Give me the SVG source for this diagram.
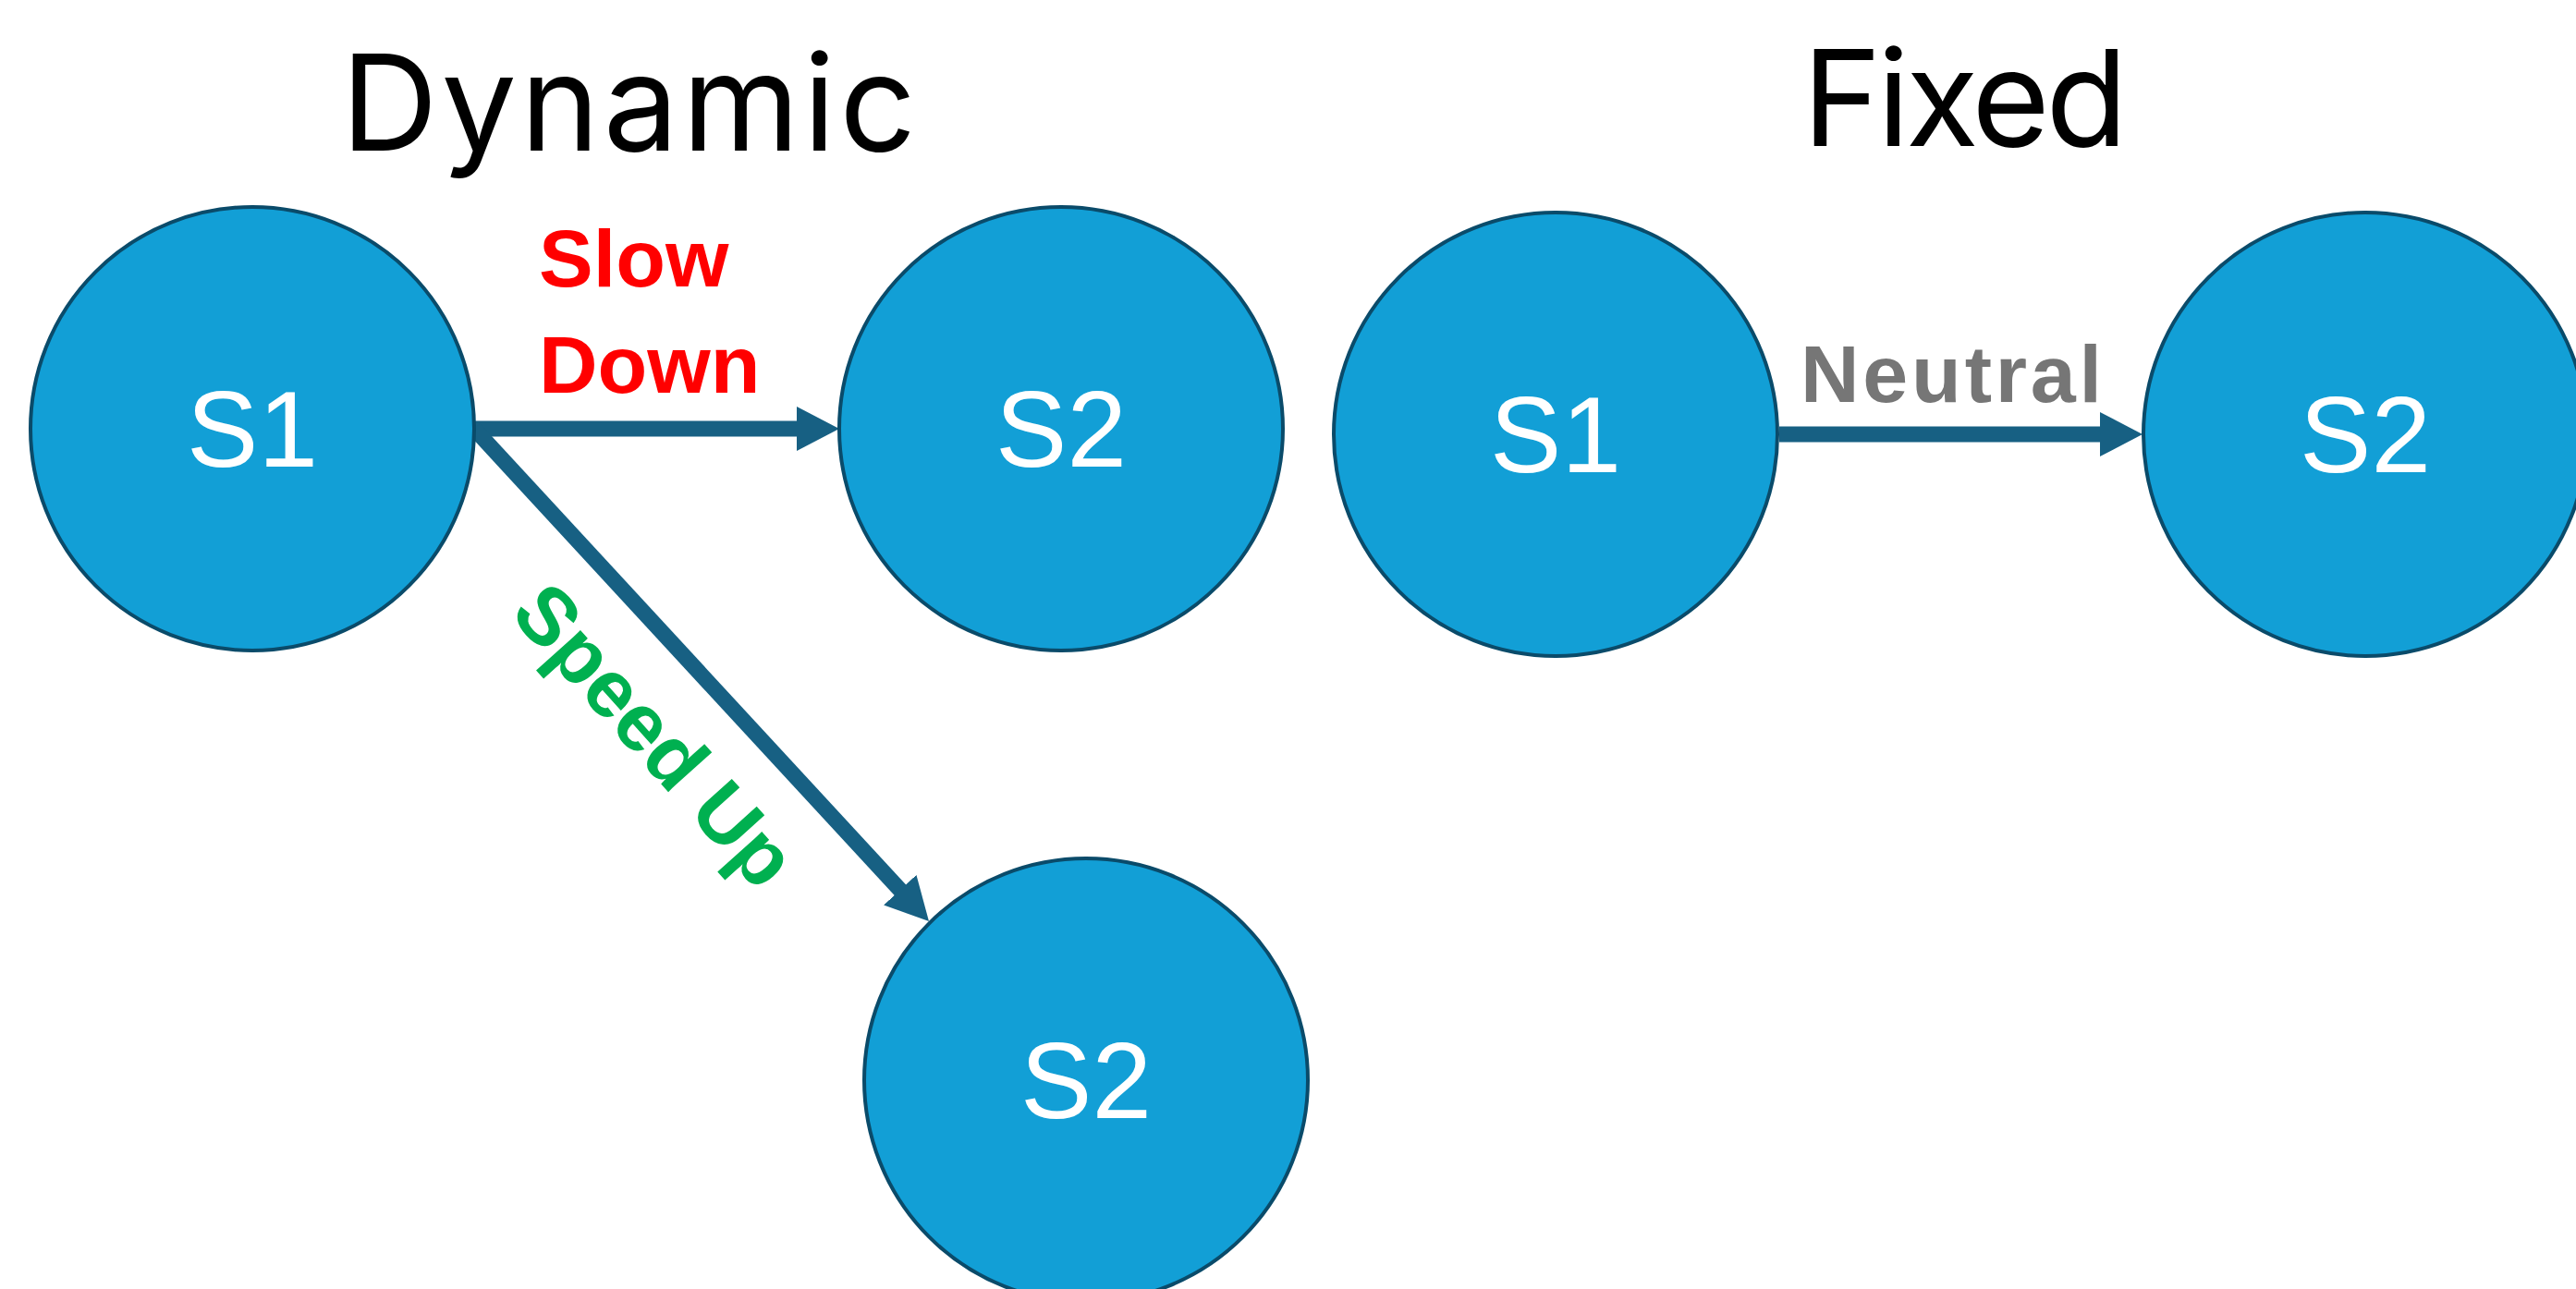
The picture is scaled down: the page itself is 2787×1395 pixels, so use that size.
<svg xmlns="http://www.w3.org/2000/svg" width="2787" height="1395" viewBox="0 0 2787 1395">
  <style>
    .node { fill: #129FD6; stroke: #0A4B6A; stroke-width: 4; }
    .nlabel { font-family: "Liberation Sans", Arial, sans-serif; font-size: 116px; fill: #FFFFFF; text-anchor: middle; }
    .title { font-family: Inter, "Liberation Sans", sans-serif; font-size: 145px; fill: #000000; text-anchor: middle; }
    .edge { stroke: #176083; stroke-width: 17; fill: none; }
    .elabel { font-family: "Liberation Sans", Arial, sans-serif; font-size: 88px; font-weight: bold; }
  </style>
  <defs>
    <marker id="arrow" markerUnits="userSpaceOnUse" markerWidth="46" markerHeight="48" viewBox="0 0 46 48" refX="4" refY="24" orient="auto">
      <path d="M0,0 L46,24 L0,48 Z" fill="#176083"/>
    </marker>
  </defs>

  <rect width="2787" height="1395" fill="#FFFFFF"/>

  <g id="titles">
    <text class="title" x="680" y="163" textLength="622">Dynamic</text>
    <text class="title" x="2126" y="158" textLength="352">Fixed</text>
  </g>

  <g id="connectors">
    <line class="edge" x1="513" y1="464" x2="866" y2="464" marker-end="url(#arrow)"/>
    <line class="edge" x1="513" y1="464" x2="976.5" y2="966.1" marker-end="url(#arrow)"/>
    <line class="edge" x1="1925" y1="470" x2="2276" y2="470" marker-end="url(#arrow)"/>
    <text class="elabel" fill="#FF0000" x="583" y="310">Slow</text>
    <text class="elabel" fill="#FF0000" x="583" y="425">Down</text>
    <text class="elabel" fill="#00B050" text-anchor="middle" transform="translate(686,816) rotate(48)" x="0" y="0">Speed Up</text>
    <text class="elabel" fill="#767676" text-anchor="middle" x="2111" y="435" font-size="92" textLength="326">Neutral</text>
  </g>

  <g id="dyn-s1">
    <circle class="node" cx="273" cy="464" r="240"/>
    <text class="nlabel" x="273" y="505">S1</text>
  </g>
  <g id="dyn-s2-top">
    <circle class="node" cx="1148" cy="464" r="240"/>
    <text class="nlabel" x="1148" y="505">S2</text>
  </g>
  <g id="dyn-s2-bottom">
    <circle class="node" cx="1175" cy="1169" r="240"/>
    <text class="nlabel" x="1175" y="1210">S2</text>
  </g>
  <g id="fixed-s1">
    <circle class="node" cx="1683" cy="470" r="240"/>
    <text class="nlabel" x="1683" y="511">S1</text>
  </g>
  <g id="fixed-s2">
    <circle class="node" cx="2559" cy="470" r="240"/>
    <text class="nlabel" x="2559" y="511">S2</text>
  </g>
</svg>
